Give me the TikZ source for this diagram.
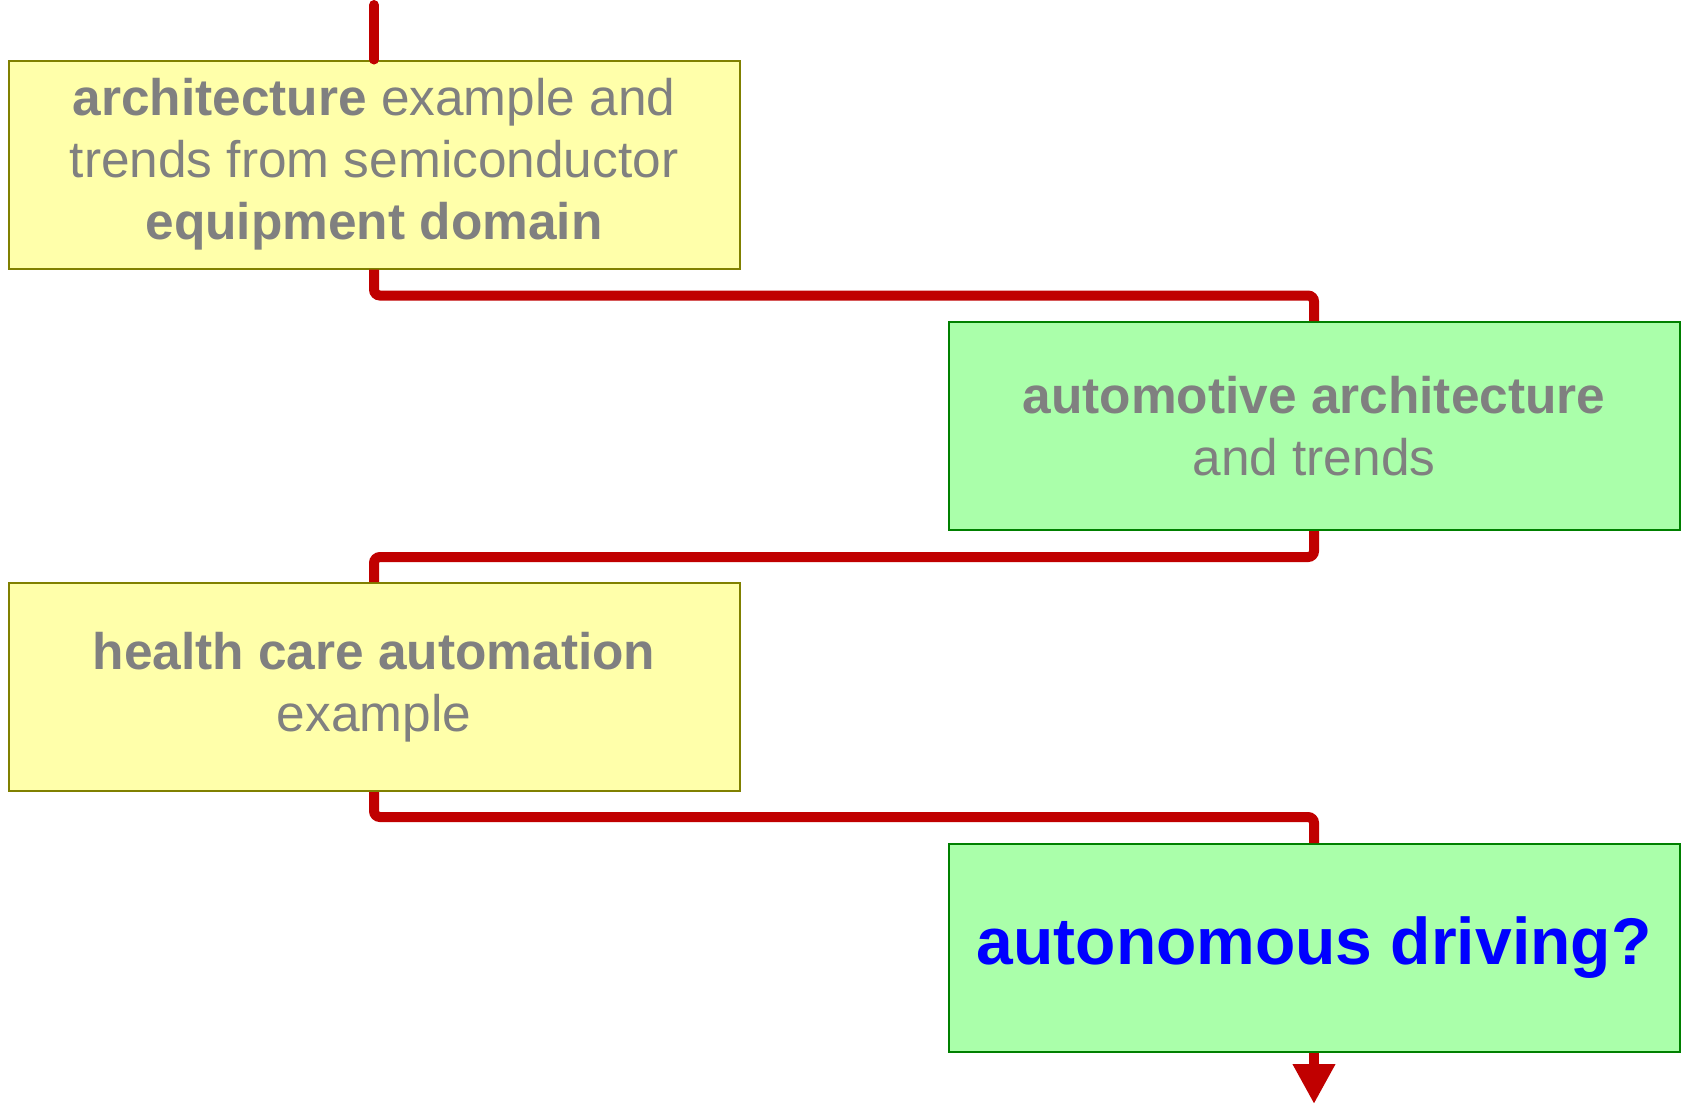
\documentclass[tikz,border=0pt]{standalone}
\usepackage{fontspec}
\setmainfont{Liberation Sans}
\usepackage{xcolor}
\usepackage{tikz}
\usetikzlibrary{arrows.meta,positioning,calc}
\definecolor{boxyellow}{RGB}{255,255,170}
\definecolor{edgeolive}{RGB}{128,128,0}
\definecolor{boxgreen}{RGB}{170,255,170}
\definecolor{edgegreen}{RGB}{0,128,0}
\definecolor{flowred}{RGB}{192,0,0}
\definecolor{textgray}{RGB}{128,128,128}
\definecolor{askblue}{RGB}{0,0,255}
\tikzset{
  topicbox/.style={rectangle,draw=#1,line width=1pt,minimum width=365.5pt,
    minimum height=104pt,align=center,inner sep=0pt,text=textgray,
    font=\fontsize{25.7}{31}\selectfont},
  yellowbox/.style={topicbox=edgeolive,fill=boxyellow},
  greenbox/.style={topicbox=edgegreen,fill=boxgreen},
  flowline/.style={line width=5pt,color=flowred,rounded corners=3pt},
}

\begin{document}
\begin{tikzpicture}[x=0.5pt,y=-0.5pt]
\useasboundingbox (0,0) rectangle (1682,1105);

% ── Topic boxes (zig-zag, top to bottom) ─────────────────────────────────
\node[yellowbox] (semi) at (374,164.5)
  {\textbf{architecture} example and\\trends from semiconductor\\\textbf{equipment domain}};
\node[greenbox] (auto) at (1314,426)
  {\textbf{automotive architecture}\\and trends};
\node[yellowbox] (health) at (374,687)
  {\textbf{health care automation}\\example};
\node[greenbox, font=\fontsize{33}{40}\selectfont\bfseries, text=askblue] (drive) at (1314,948)
  {autonomous driving?};

% ── Loose ends of the flow ───────────────────────────────────────────────
\coordinate (start) at (374,5);
\coordinate (finish) at (1314,1104);

% ── Flow line ────────────────────────────────────────────────────────────
\draw[flowline, line cap=round] (start) -- (semi.north);
\draw[flowline] (semi.south) -- ++(0,26) -| (auto.north);
\draw[flowline] (auto.south) -- ++(0,26) -| (health.north);
\draw[flowline] (health.south) -- ++(0,25) -| (drive.north);
\draw[flowline, -{Triangle[width=20pt,length=20pt]}] (drive.south) -- (finish);

\end{tikzpicture}
\end{document}
